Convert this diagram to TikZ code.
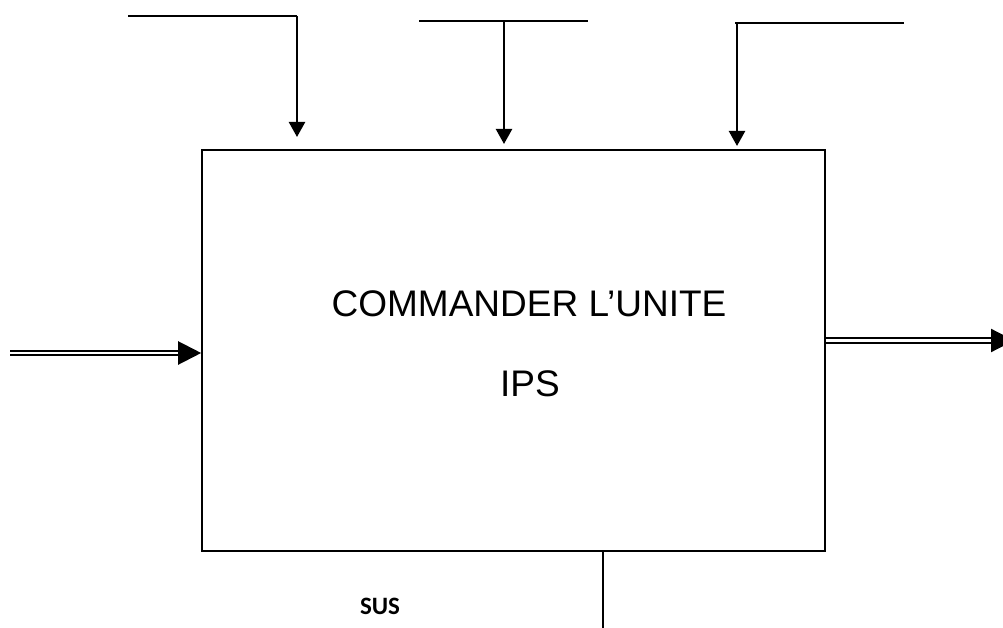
\documentclass[tikz,border=0pt]{standalone}
\usepackage{fontspec}
\setmainfont{Liberation Sans}
\newfontfamily\calibri{Carlito}
\usetikzlibrary{arrows.meta}
\begin{document}
\begin{tikzpicture}[x=1pt,y=-1pt,
  ctrl/.style={line width=2.3pt,-{Triangle[length=15pt,width=16pt]}},
  bar/.style={line width=2.2pt},
  flow/.style={double distance=2.3pt,line width=2.2pt,-{Triangle[length=23pt,width=23pt]}},
  lbl/.style={inner sep=0pt,anchor=base,font=\fontsize{37}{44}\selectfont}]
\useasboundingbox (0,0) rectangle (1003,628);
\node[draw,line width=1.6pt,minimum width=623pt,minimum height=401pt,inner sep=0pt] (box) at (513.5,350.5) {};
\node[lbl] (t1) at (529,316) {COMMANDER L’UNITE};
\node[lbl] (t2) at (530,396) {IPS};
% top controls
\coordinate (c1a) at (128,16);
\coordinate (c1b) at (297,16);
\coordinate (c1e) at (297,137);
\draw[bar] (c1a) -- (c1b);
\draw[ctrl] (c1b) -- (c1e);
\coordinate (c2a) at (419,21);
\coordinate (c2b) at (588,21);
\coordinate (c2c) at (504,21);
\coordinate (c2e) at (504,144);
\draw[bar] (c2a) -- (c2b);
\draw[ctrl] (c2c) -- (c2e);
\coordinate (c3a) at (735,23);
\coordinate (c3b) at (904,23);
\coordinate (c3e) at (737,146);
\draw[bar] (c3a) -- (c3b);
\draw[ctrl] (c3a -| c3e) -- (c3e);
% input / output
\coordinate (in) at (10,353);
\draw[flow] (in) -- (box.west |- in);
\coordinate (out) at (1014,340.5);
\draw[flow] (box.east |- out) -- (out);
% mechanism
\coordinate (mech) at (603,628);
\draw[line width=1.8pt] (box.south -| mech) -- (mech);
\node[inner sep=0pt,font=\calibri\bfseries\fontsize{25}{30}\selectfont] (sus) at (380,606) {SUS};
\end{tikzpicture}
\end{document}
